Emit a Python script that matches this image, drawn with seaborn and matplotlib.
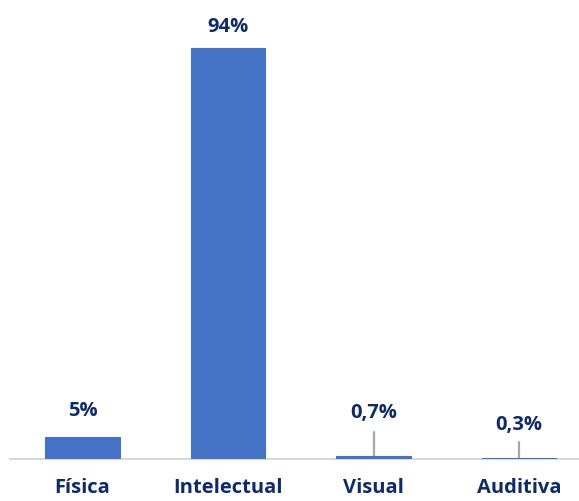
import matplotlib
matplotlib.use("Agg")
import matplotlib.pyplot as plt
import seaborn as sns
import pandas as pd

categories = ["Física", "Intelectual", "Visual", "Auditiva"]
values = [5, 94, 0.7, 0.3]
labels = ["5%", "94%", "0,7%", "0,3%"]
label_heights = [11.0, 98.9, 10.5, 7.8]
leader_tops = [None, None, 6.2, 3.9]

sns.set_theme(style="white")
plt.rcParams["font.family"] = ["Open Sans", "DejaVu Sans"]

bar_color = "#4472C4"
text_color = "#0F2C66"

df = pd.DataFrame({"cat": categories, "val": values})

fig = plt.figure(figsize=(5.79, 5.01), dpi=100)
ax = fig.add_axes([9.75 / 579, 42 / 501, 582 / 579, 437 / 501])

sns.barplot(data=df, x="cat", y="val", color=bar_color, saturation=1,
            width=0.515, ax=ax, zorder=3, edgecolor=bar_color, linewidth=0.8)

for i, (v, lab, h, lt) in enumerate(zip(values, labels, label_heights, leader_tops)):
    if lt is not None:
        ax.plot([i, i], [v, lt], color="#A6A6A6", lw=1.6, zorder=2)
    ax.text(i, h, lab, ha="center", va="center", fontsize=14.5,
            fontweight="bold", color=text_color)

ax.set_xlim(-0.5, 3.5)
ax.set_ylim(0, 100)
ax.set_xlabel("")
ax.set_ylabel("")
ax.set_yticks([])
for side in ["left", "right", "top"]:
    ax.spines[side].set_visible(False)
ax.spines["bottom"].set_color("#D9D9D9")
ax.spines["bottom"].set_linewidth(1.5)
ax.spines["bottom"].set_zorder(1)
ax.tick_params(axis="x", length=0, pad=14)
for t in ax.get_xticklabels():
    t.set_fontsize(14.5)
    t.set_fontweight("bold")
    t.set_color(text_color)

fig.savefig("out.png", dpi=100)
